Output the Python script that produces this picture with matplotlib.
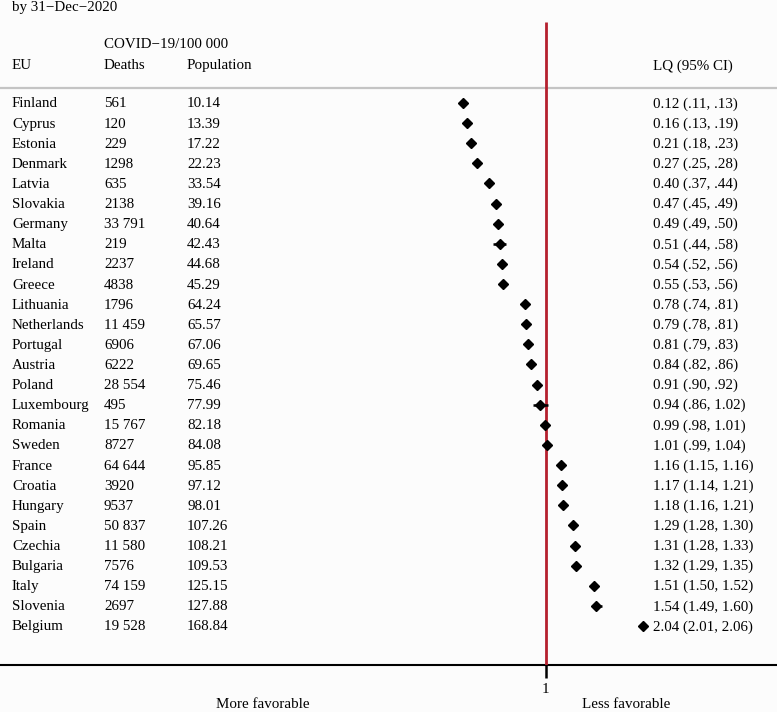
import matplotlib
matplotlib.use("Agg")
import matplotlib.pyplot as plt
from matplotlib import transforms

plt.rcParams['font.family'] = ['Liberation Serif', 'DejaVu Serif']

countries = ['Finland', 'Cyprus', 'Estonia', 'Denmark', 'Latvia', 'Slovakia',
             'Germany', 'Malta', 'Ireland', 'Greece', 'Lithuania', 'Netherlands',
             'Portugal', 'Austria', 'Poland', 'Luxembourg', 'Romania', 'Sweden',
             'France', 'Croatia', 'Hungary', 'Spain', 'Czechia', 'Bulgaria',
             'Italy', 'Slovenia', 'Belgium']
deaths = ['561', '120', '229', '1298', '635', '2138', '33 791', '219', '2237',
          '4838', '1796', '11 459', '6906', '6222', '28 554', '495', '15 767',
          '8727', '64 644', '3920', '9537', '50 837', '11 580', '7576',
          '74 159', '2697', '19 528']
population = ['10.14', '13.39', '17.22', '22.23', '33.54', '39.16', '40.64',
              '42.43', '44.68', '45.29', '64.24', '65.57', '67.06', '69.65',
              '75.46', '77.99', '82.18', '84.08', '95.85', '97.12', '98.01',
              '107.26', '108.21', '109.53', '125.15', '127.88', '168.84']
lq = [0.12, 0.16, 0.21, 0.27, 0.40, 0.47, 0.49, 0.51, 0.54, 0.55, 0.78, 0.79,
      0.81, 0.84, 0.91, 0.94, 0.99, 1.01, 1.16, 1.17, 1.18, 1.29, 1.31, 1.32,
      1.51, 1.54, 2.04]
lo = [0.11, 0.13, 0.18, 0.25, 0.37, 0.45, 0.49, 0.44, 0.52, 0.53, 0.74, 0.78,
      0.79, 0.82, 0.90, 0.86, 0.98, 0.99, 1.15, 1.14, 1.16, 1.28, 1.28, 1.29,
      1.50, 1.49, 2.01]
hi = [0.13, 0.19, 0.23, 0.28, 0.44, 0.49, 0.50, 0.58, 0.56, 0.56, 0.81, 0.81,
      0.83, 0.86, 0.92, 1.02, 1.01, 1.04, 1.16, 1.21, 1.21, 1.30, 1.33, 1.35,
      1.52, 1.60, 2.06]


def fmt_ci(v):
    # .11 style for values below 1, 1.02 otherwise
    s = '%.2f' % v
    return s[1:] if v < 1 else s


bg = '#fcfcfc'
fig = plt.figure(figsize=(7.77, 7.12), dpi=100, facecolor=bg)
ax = fig.add_axes([0, 47 / 712, 1, 665 / 712], facecolor=bg)

rows = list(range(len(countries)))
ax.set_xlim(-4.805, 3.461)
ax.set_ylim(27.94, -5.12)

# forest plot
for r, l, h in zip(rows, lo, hi):
    ax.plot([l, h], [r, r], color='black', lw=1.8, solid_capstyle='butt', zorder=4)
ax.plot(lq, rows, 'D', color='black', ms=5, ls='none', zorder=5)

ax.vlines(1, -4.03, 27.94, color='#b5202e', lw=2, zorder=3)
ax.axhline(-0.75, color='#c4c4c4', lw=1.6)

for s in ['top', 'left', 'right']:
    ax.spines[s].set_visible(False)
ax.spines['bottom'].set_linewidth(1.5)
ax.set_yticks([])
ax.set_xticks([1])
ax.set_xticklabels(['1'])
ax.tick_params(axis='x', length=9, width=1.8, pad=4, labelsize=10.8)

# text columns
tr = transforms.blended_transform_factory(fig.transFigure, ax.transData)
fs = 10.8
for r in rows:
    ax.text(12 / 777, r + 0.05, countries[r], transform=tr, fontsize=fs, va='center')
    ax.text(104 / 777, r + 0.05, deaths[r], transform=tr, fontsize=fs, va='center')
    ax.text(187 / 777, r + 0.05, population[r], transform=tr, fontsize=fs, va='center')
    ax.text(653 / 777, r + 0.05, '%.2f (%s, %s)' % (lq[r], fmt_ci(lo[r]), fmt_ci(hi[r])),
            transform=tr, fontsize=fs, va='center')

ax.text(12 / 777, -1.85, 'EU', transform=tr, fontsize=fs, va='center')
ax.text(104 / 777, -1.85, 'Deaths', transform=tr, fontsize=fs, va='center')
ax.text(187 / 777, -1.85, 'Population', transform=tr, fontsize=fs, va='center')
ax.text(104 / 777, -2.9, 'COVID\u221219/100 000', transform=tr, fontsize=fs, va='center')
ax.text(653 / 777, -1.85, 'LQ (95% CI)', transform=tr, fontsize=fs, va='center')
ax.text(12 / 777, -4.75, 'by 31\u2212Dec\u22122020', transform=tr, fontsize=fs, va='center')

fig.text(263 / 777, 8 / 712, 'More favorable', fontsize=fs, ha='center', va='center')
fig.text(626 / 777, 8 / 712, 'Less favorable', fontsize=fs, ha='center', va='center')

fig.savefig('out.png', dpi=100, facecolor=bg)
